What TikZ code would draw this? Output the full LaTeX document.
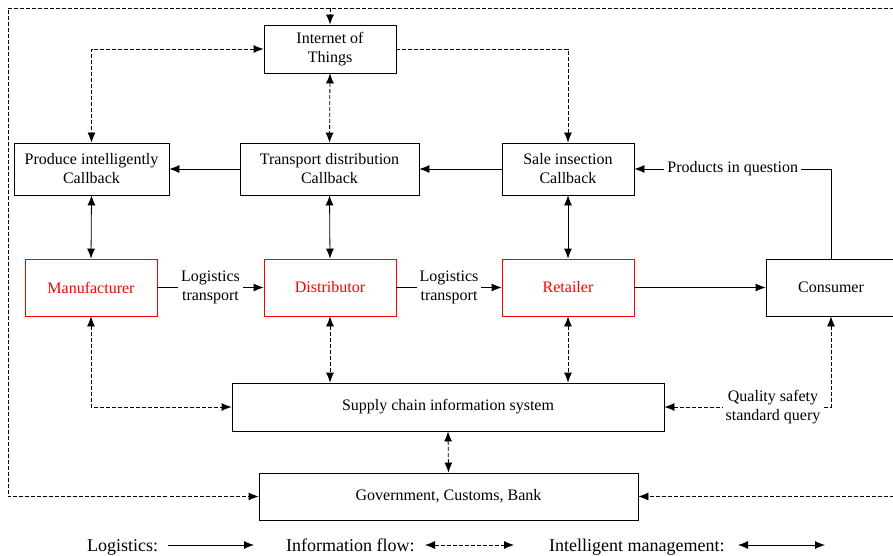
\documentclass[tikz,border=0pt]{standalone}
\usepackage{fontspec}
\setmainfont{Liberation Serif}
\newfontfamily\tms{Liberation Serif}
\usetikzlibrary{arrows.meta}
\begin{document}
\begin{tikzpicture}[x=1pt,y=-1pt,
  box/.style={draw, line width=0.8pt, align=center, inner sep=2pt, font=\tms\fontsize{16}{19}\selectfont},
  redbox/.style={box, draw=red, text=red},
  tip/.tip={Latex[length=10pt,width=8pt]},
  sol/.style={line width=0.8pt, -tip},
  dsol/.style={line width=0.8pt, tip-tip},
  dsh/.style={line width=0.8pt, dash pattern=on 4pt off 2pt},
  one/.style={-tip},
  both/.style={tip-tip},
  lab/.style={fill=white, inner sep=3pt, align=center, font=\tms\fontsize{16}{19}\selectfont},
  leg/.style={inner sep=0pt, anchor=base west, font=\tms\fontsize{18}{21}\selectfont}]
\useasboundingbox (0,0) rectangle (893,556);
\clip (0,0) rectangle (893,556);

% nodes
\node[box, minimum width=132pt, minimum height=48pt] (iot) at (330,49) {Internet of\\Things};
\node[box, minimum width=155pt, minimum height=52pt] (prod) at (91.5,169) {Produce intelligently\\Callback};
\node[box, minimum width=179pt, minimum height=52pt] (trans) at (329.5,169) {Transport distribution\\Callback};
\node[box, minimum width=132pt, minimum height=52pt] (sale) at (568,169) {Sale insection\\Callback};
\node[redbox, minimum width=132pt, minimum height=57pt] (man) at (91,287.5) {Manufacturer};
\node[redbox, minimum width=132pt, minimum height=57pt] (dist) at (330,287.5) {Distributor};
\node[redbox, minimum width=132pt, minimum height=57pt] (ret) at (568,287.5) {Retailer};
\node[box, minimum width=130pt, minimum height=57pt] (con) at (831,287.5) {Consumer};
\node[box, minimum width=432pt, minimum height=48pt] (sup) at (448,407) {Supply chain information system};
\node[box, minimum width=379pt, minimum height=47pt] (gov) at (448.5,496.5) {Government, Customs, Bank};

% outer loop coordinates
\coordinate (tl) at (8,8);
\coordinate (tr) at (900,8);
\coordinate (br) at (900,496.5);

% IoT links
\draw[dsh, both] (iot.west) -| (prod.north);
\draw[dsh, one] (iot.east) -| (sale.north);
\draw[dsh, both] (iot.south) -- (trans.north);

% callback chain
\draw[sol] (trans.west) -- (prod.east);
\draw[sol] (sale.west) -- (trans.east);

% intelligent management
\draw[dsol] (prod.south) -- (man.north);
\draw[dsol] (trans.south) -- (dist.north);
\draw[dsol] (sale.south) -- (ret.north);

% logistics
\draw[sol] (man.east) -- node[lab] {Logistics\\transport} (dist.west);
\draw[sol] (dist.east) -- node[lab] {Logistics\\transport} (ret.west);
\draw[sol] (ret.east) -- (con.west);
\draw[sol] (con.north) |- node[lab, pos=0.75] {Products in question} (sale.east);

% information flow to supply chain system
\draw[dsh, both] (man.south) |- (sup.west);
\draw[dsh, both] (dist.south) -- (dist.south |- sup.north);
\draw[dsh, both] (ret.south) -- (ret.south |- sup.north);
\draw[dsh, both] (con.south) |- node[lab, pos=0.674] {Quality safety\\standard query} (sup.east);
\draw[dsh, both] (sup.south) -- (gov.north);

% outer loop
\draw[dsh, one] (tr) -- (tl) |- (gov.west);
\draw[dsh, one] (iot.north |- tl) -- (iot.north);
\draw[dsh, one] (br) -- (gov.east);

% legend
\node[leg] (lg1) at (87,551) {Logistics:};
\coordinate (l1a) at (168,545);
\coordinate (l1b) at (254,545);
\draw[sol] (l1a) -- (l1b);
\node[leg] (lg2) at (286,551) {Information flow:};
\coordinate (l2a) at (425,545);
\coordinate (l2b) at (514,545);
\draw[dsh, both] (l2a) -- (l2b);
\node[leg] (lg3) at (549,551) {Intelligent management:};
\coordinate (l3a) at (738,545);
\coordinate (l3b) at (825,545);
\draw[dsol] (l3a) -- (l3b);
\end{tikzpicture}
\end{document}
